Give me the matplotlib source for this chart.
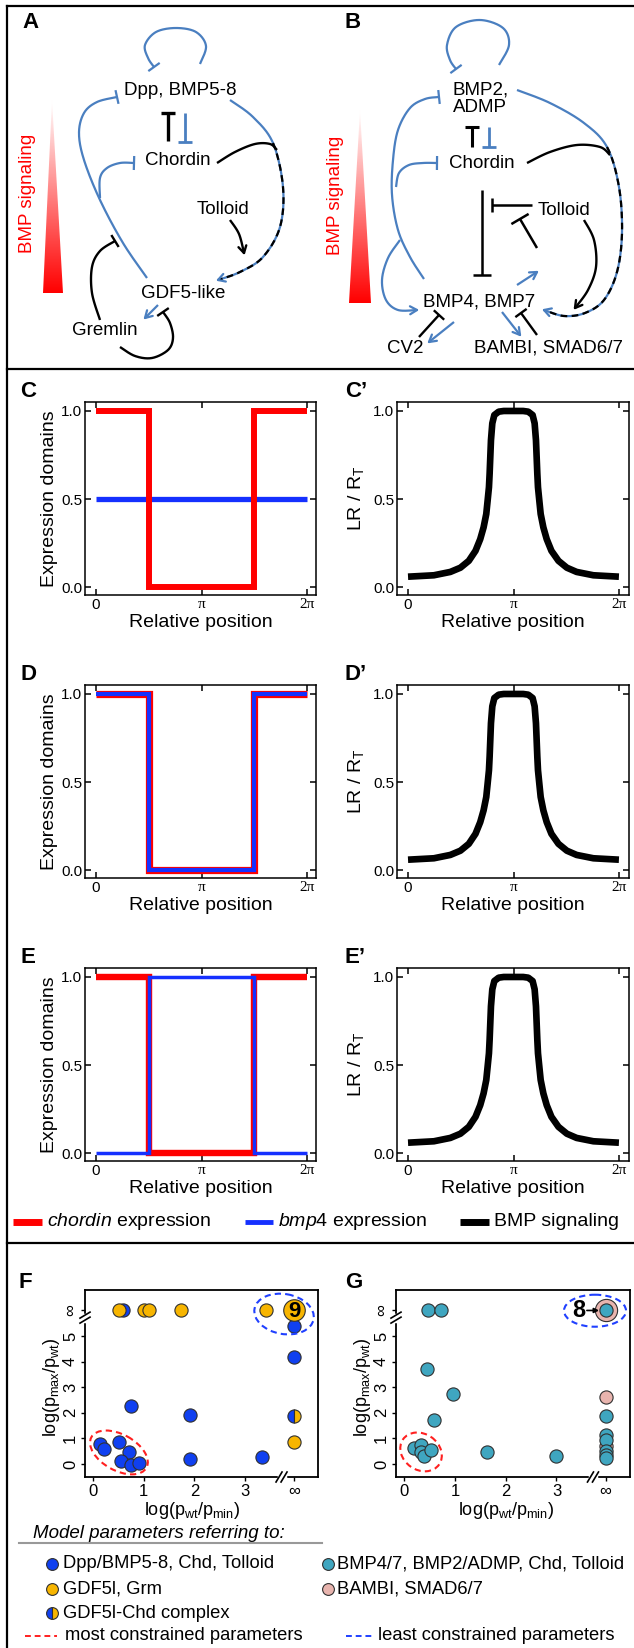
import numpy as np
import matplotlib
matplotlib.use('Agg')
import matplotlib.pyplot as plt
from matplotlib.patches import Polygon, Ellipse
from matplotlib.colors import LinearSegmentedColormap

plt.rcParams['font.family'] = ['Liberation Sans', 'DejaVu Sans']
plt.rcParams['mathtext.fontset'] = 'custom'
plt.rcParams['mathtext.rm'] = 'Liberation Sans'
plt.rcParams['mathtext.it'] = 'Liberation Sans:italic'
plt.rcParams['mathtext.bf'] = 'Liberation Sans:bold'

W, H = 634, 1648
PI = np.pi

# ---------------- data ----------------
# expression domains (relative position around the embryo)
position = [0, PI / 2, PI / 2, 3 * PI / 2, 3 * PI / 2, 2 * PI]
chordin_C = [1, 1, 0, 0, 1, 1]
bmp4_C = [0.5, 0.5, 0.5, 0.5, 0.5, 0.5]
chordin_D = [1, 1, 0, 0, 1, 1]
bmp4_D = [1, 1, 0, 0, 1, 1]
chordin_E = [1, 1, 0, 0, 1, 1]
bmp4_E = [0, 0, 1, 1, 0, 0]

# BMP signaling LR/RT
lr_pos = [0.0, 0.77, 1.26, 1.56, 1.81, 2.01, 2.15, 2.25, 2.33, 2.37, 2.41, 2.43,
          2.45, 2.47, 2.51, 2.57, 2.70, 2.85, 3.14, 3.43, 3.58, 3.71, 3.77, 3.81,
          3.83, 3.85, 3.87, 3.91, 3.95, 4.03, 4.13, 4.27, 4.48, 4.73, 5.02, 5.52, 6.28]
lr_val = [0.059, 0.067, 0.086, 0.11, 0.149, 0.206, 0.272, 0.339, 0.415, 0.49, 0.567,
          0.644, 0.739, 0.834, 0.93, 0.977, 0.996, 1.0, 1.0, 1.0, 0.996, 0.977, 0.93,
          0.834, 0.739, 0.644, 0.567, 0.49, 0.415, 0.339, 0.272, 0.206, 0.149, 0.11,
          0.086, 0.067, 0.059]

INF = 3.97   # x position of the "infinity" column
INFY = 6.0   # y position of the "infinity" row

# panel F
f_blue_x = [0.60, 0.75, 1.92, 1.92, 3.34, 0.14, 0.22, 0.52, 0.70, 0.55, 0.74, 0.90, INF, INF]
f_blue_y = [INFY, 2.26, 1.93, 0.20, 0.26, 0.78, 0.59, 0.86, 0.47, 0.13, -0.03, 0.04, 5.41, 4.19]
f_orange_x = [0.52, 1.00, 1.11, 1.73, 3.41, INF]
f_orange_y = [INFY, INFY, INFY, INFY, INFY, 0.86]
f_half_x = [INF]
f_half_y = [1.86]

# panel G
g_pink_x = [INF, INF]
g_pink_y = [2.60, 0.72]
g_teal_x = [0.47, 0.72, 0.45, 0.96, 0.59, 1.63, 2.99, 0.20, 0.33, 0.32, 0.39, 0.53,
            INF, INF, INF, INF, INF, INF]
g_teal_y = [INFY, INFY, 3.70, 2.73, 1.73, 0.48, 0.32, 0.62, 0.75, 0.45, 0.30, 0.56,
            1.88, 1.12, 0.95, 0.52, 0.36, 0.22]

RED = '#ff0000'
BLUE = '#1530ff'
DBLUE = '#4a7fc0'
F_BLUE = '#1040f0'
ORANGE = '#f7b500'
TEAL = '#3fa6c0'
PINK = '#e8b4ae'
EDGE = '#303030'

fig = plt.figure(figsize=(W / 100, H / 100), dpi=100)


def px_rect(l, t, r, b):
    return [l / W, 1 - b / H, (r - l) / W, (b - t) / H]


ov = fig.add_axes([0, 0, 1, 1], zorder=5)
ov.set_xlim(0, W)
ov.set_ylim(H, 0)
ov.axis('off')
ov.patch.set_visible(False)


# ---------------- helpers for diagrams ----------------
def spline(pts, n=30):
    pts = np.asarray(pts, float)
    ext = np.vstack([pts[0], pts, pts[-1]])
    out = []
    for i in range(1, len(ext) - 2):
        p0, p1, p2, p3 = ext[i - 1], ext[i], ext[i + 1], ext[i + 2]
        c1 = p1 + (p2 - p0) / 6
        c2 = p2 - (p3 - p1) / 6
        t = np.linspace(0, 1, n)[:, None]
        seg = (1 - t) ** 3 * p1 + 3 * (1 - t) ** 2 * t * c1 + 3 * (1 - t) * t ** 2 * c2 + t ** 3 * p2
        out.append(seg if i == 1 else seg[1:])
    return np.vstack(out)


def curve(pts, color, lw=1.6, end=None, half=7, dashed_from=None, size=8):
    n = 30
    s = spline(pts, n)
    ov.plot(s[:, 0], s[:, 1], color=color, lw=lw, solid_capstyle='butt')
    if dashed_from is not None:
        k = dashed_from * (n - 1)
        ov.plot(s[k:, 0], s[k:, 1], color='black', lw=lw, linestyle=(0, (3, 2)))
    tip = s[-1]
    prev = s[-4] if len(s) > 4 else s[0]
    d = tip - prev
    d = d / np.hypot(*d)
    if end == 'tee':
        nrm = np.array([-d[1], d[0]])
        a, b = tip - nrm * half, tip + nrm * half
        ov.plot([a[0], b[0]], [a[1], b[1]], color=color, lw=lw, solid_capstyle='butt')
    elif end == 'arrow':
        for ang in (np.radians(30), -np.radians(30)):
            r = np.array([[np.cos(ang), -np.sin(ang)], [np.sin(ang), np.cos(ang)]])
            p = tip + size * (r @ (-d))
            ov.plot([tip[0], p[0]], [tip[1], p[1]], color=color, lw=lw, solid_capstyle='round')


def gradient_triangle(apex, base_l, base_r):
    cmap = LinearSegmentedColormap.from_list('w2r', ['white', RED])
    grad = np.linspace(0, 1, 256)[:, None]
    im = ov.imshow(grad, extent=(base_l[0], base_r[0], base_l[1], apex[1]),
                   cmap=cmap, aspect='auto', origin='upper', zorder=1)
    poly = Polygon([apex, base_l, base_r], closed=True, transform=ov.transData)
    im.set_clip_path(poly)


TXT = 13.5

# ---------------- frame ----------------
ov.plot([7, 7], [6, H], color='black', lw=1.6)
ov.plot([7, W], [6, 6], color='black', lw=1.6)
ov.plot([7, W], [369, 369], color='black', lw=1.6)
ov.plot([7, W], [1243, 1243], color='black', lw=1.6)

# ---------------- panel A ----------------
ov.text(22, 22, 'A', fontsize=16, fontweight='bold', ha='left', va='center')
gradient_triangle((52, 100), (43, 293), (63, 293))
ov.text(28, 193, 'BMP signaling', color=RED, rotation=90, fontsize=TXT, ha='center', va='center')
ov.text(180, 90, 'Dpp, BMP5-8', fontsize=TXT, ha='center', va='center')
ov.text(178, 160, 'Chordin', fontsize=TXT, ha='center', va='center')
ov.text(223, 209, 'Tolloid', fontsize=TXT, ha='center', va='center')
ov.text(183, 293, 'GDF5-like', fontsize=TXT, ha='center', va='center')
ov.text(105, 330, 'Gremlin', fontsize=TXT, ha='center', va='center')

curve([(200, 64), (206, 46), (196, 32), (176, 28), (156, 32), (145, 45), (148, 58), (154, 67)], DBLUE, end='tee')
curve([(147, 278), (123, 243), (100, 200), (84, 160), (79, 133), (84, 113), (97, 102), (117, 97)], DBLUE, end='tee')
curve([(100, 198), (100, 178), (107, 168), (120, 163), (134, 163)], DBLUE, end='tee')
curve([(230, 100), (253, 117), (273, 143), (283, 187), (280, 227), (263, 257), (240, 272), (218, 280)],
      DBLUE, end='arrow', dashed_from=2)
curve([(217, 163), (235, 152), (255, 144), (270, 144), (277, 150)], 'black', lw=1.7)
curve([(230, 220), (239, 234), (244, 253)], 'black', lw=1.7, end='arrow')
curve([(100, 320), (92, 293), (92, 267), (100, 251), (115, 241)], 'black', lw=1.7, end='tee')
curve([(158, 305), (145, 318)], DBLUE, end='arrow')
curve([(120, 347), (135, 356), (152, 358), (168, 350), (173, 338), (170, 323), (163, 312)],
      'black', lw=1.7, end='tee')
curve([(168, 141), (168, 113)], 'black', lw=2.4, end='tee')
curve([(185, 113), (185, 142)], DBLUE, lw=2.0, end='tee')

# ---------------- panel B ----------------
ov.text(345, 22, 'B', fontsize=16, fontweight='bold', ha='left', va='center')
gradient_triangle((360, 110), (349, 303), (371, 303))
ov.text(335, 195, 'BMP signaling', color=RED, rotation=90, fontsize=TXT, ha='center', va='center')
ov.text(481, 90, 'BMP2,', fontsize=TXT, ha='center', va='center')
ov.text(480, 107, 'ADMP', fontsize=TXT, ha='center', va='center')
ov.text(482, 163, 'Chordin', fontsize=TXT, ha='center', va='center')
ov.text(564, 210, 'Tolloid', fontsize=TXT, ha='center', va='center')
ov.text(479, 302, 'BMP4, BMP7', fontsize=TXT, ha='center', va='center')
ov.text(405, 348, 'CV2', fontsize=TXT, ha='center', va='center')
ov.text(548, 348, 'BAMBI, SMAD6/7', fontsize=TXT, ha='center', va='center')

curve([(499, 65), (509, 45), (503, 28), (480, 20), (456, 27), (447, 45), (450, 60), (456, 69)], DBLUE, end='tee')
curve([(424, 279), (410, 257), (398, 230), (392, 195), (393, 160), (398, 130), (410, 108), (425, 99), (439, 97)],
      DBLUE, end='tee')
curve([(396, 187), (399, 173), (409, 165), (423, 163), (437, 163)], DBLUE, end='tee')
curve([(400, 240), (388, 258), (382, 280), (386, 300), (398, 310), (417, 310)], DBLUE, end='arrow')
curve([(517, 90), (550, 103), (584, 123), (607, 147), (619, 187), (622, 233), (617, 272), (604, 300),
       (585, 313), (564, 316), (544, 310)], DBLUE, end='arrow', dashed_from=3)
curve([(527, 163), (550, 152), (577, 145), (600, 147), (610, 155)], 'black', lw=1.7)
curve([(482, 190), (482, 275)], 'black', lw=1.8, end='tee', half=9)
curve([(532, 205), (492, 205)], 'black', lw=1.8, end='tee', half=7)
curve([(537, 248), (520, 219)], 'black', lw=1.8, end='tee', half=10)
curve([(517, 285), (537, 272)], DBLUE, end='arrow')
curve([(584, 220), (594, 240), (596, 267), (588, 290), (575, 308)], 'black', lw=1.7, end='arrow')
curve([(419, 337), (439, 315)], 'black', lw=1.7, end='tee')
curve([(454, 322), (429, 342)], DBLUE, end='arrow')
curve([(502, 312), (520, 335)], DBLUE, end='arrow')
curve([(537, 335), (521, 313)], 'black', lw=1.7, end='tee')
curve([(472, 147), (472, 127)], 'black', lw=2.2, end='tee')
curve([(489, 127), (489, 147)], DBLUE, lw=2.0, end='tee')


# ---------------- panels C-E ----------------
def style_expr(ax, ylabel):
    ax.set_ylim(-0.045, 1.051)
    ax.set_xticks([0, PI, 2 * PI])
    ax.set_xticklabels(['0', 'π', '2π'])
    for lbl in ax.get_xticklabels()[1:]:
        lbl.set_fontfamily(['Liberation Serif'])
        lbl.set_fontsize(10)
    ax.set_yticks([0, 0.5, 1.0])
    ax.set_yticklabels(['0.0', '0.5', '1.0'])
    ax.tick_params(direction='in', top=True, right=True, length=4, width=1.1,
                   labelsize=11, pad=2)
    for sp in ax.spines.values():
        sp.set_linewidth(1.1)
    ax.set_xlabel('Relative position', fontsize=14)
    ax.xaxis.label.set_va('center')
    ax.xaxis.set_label_coords(0.5, -0.14)
    ax.set_ylabel(ylabel, fontsize=14)
    ax.yaxis.label.set_va('center')


rows = [
    (402, chordin_C, bmp4_C, 4.3, 3.8, True, 'C'),
    (685, chordin_D, bmp4_D, 5.2, 3.0, False, 'D'),
    (968, chordin_E, bmp4_E, 4.6, 2.5, False, 'E'),
]
for top, chd, bmp, clw, blw, red_on_top, letter in rows:
    ax = fig.add_axes(px_rect(85, top, 316, top + 193))
    zr, zb = (3, 2) if red_on_top else (2, 3)
    ax.plot(position, chd, color=RED, lw=clw, solid_joinstyle='miter', solid_capstyle='butt', zorder=zr)
    ax.plot(position, bmp, color=BLUE, lw=blw, solid_joinstyle='miter', solid_capstyle='butt', zorder=zb)
    ax.set_xlim(-0.328, 6.551)
    style_expr(ax, 'Expression domains')
    ax.yaxis.set_label_coords(-0.152, 0.5)
    ov.text(20, top - 11, letter, fontsize=16, fontweight='bold', ha='left', va='center')

    ax2 = fig.add_axes(px_rect(397, top, 629, top + 193))
    ax2.plot(lr_pos, lr_val, color='black', lw=4.8, solid_capstyle='butt')
    ax2.set_xlim(-0.328, 6.58)
    style_expr(ax2, 'LR / R$_{\\mathrm{T}}$')
    ax2.yaxis.set_label_coords(-0.177, 0.5)
    ov.text(345, top - 11, letter + '\u2019', fontsize=16, fontweight='bold', ha='left', va='center')

# legend row for C-E
ov.plot([13, 42], [1222, 1222], color=RED, lw=5, solid_capstyle='butt')
ov.text(47, 1222, '$\\mathit{chordin}$ expression', fontsize=14, ha='left', va='center')
ov.plot([245, 273], [1222, 1222], color=BLUE, lw=3.5, solid_capstyle='butt')
ov.text(278, 1222, '$\\mathit{bmp4}$ expression', fontsize=14, ha='left', va='center')
ov.plot([460, 489], [1222, 1222], color='black', lw=5, solid_capstyle='butt')
ov.text(494, 1222, 'BMP signaling', fontsize=14, ha='left', va='center')


# ---------------- panels F, G ----------------
def style_scatter(ax):
    ax.set_xlim(-0.16, 4.44)
    ax.set_ylim(-0.51, 6.8)
    ax.set_xticks([0, 1, 2, 3, INF])
    ax.set_xticklabels(['0', '1', '2', '3', '∞'])
    ax.set_yticks([0, 1, 2, 3, 4, 5, INFY])
    ax.set_yticklabels(['0', '1', '2', '3', '4', '5', '∞'], rotation=90, va='center')
    ax.get_xticklabels()[-1].set_fontsize(17)
    ax.get_yticklabels()[-1].set_fontsize(17)
    ax.tick_params(direction='out', length=3, width=1, labelsize=12, pad=2)
    for sp in ax.spines.values():
        sp.set_linewidth(1.3)
    ax.set_xlabel('log(p$_{\\mathrm{wt}}$/p$_{\\mathrm{min}}$)', fontsize=13)
    ax.xaxis.label.set_va('center')
    ax.set_ylabel('log(p$_{\\mathrm{max}}$/p$_{\\mathrm{wt}}$)', fontsize=13)
    ax.yaxis.label.set_va('center')


def to_px(ax, x, y):
    px, py = ax.transData.transform((x, y))
    return px, H - py


def axis_breaks(ax, xb, yb):
    ylo = ax.get_ylim()[0]
    xlo = ax.get_xlim()[0]
    cx, cy = to_px(ax, xb, ylo)
    ov.plot([cx - 3, cx + 3], [cy, cy], color='white', lw=2.5, zorder=6)
    for dx in (-2.5, 2.5):
        ov.plot([cx + dx - 3, cx + dx + 3], [cy + 5, cy - 5], color='black', lw=1.2, zorder=7)
    cx, cy = to_px(ax, xlo, yb)
    ov.plot([cx, cx], [cy - 3, cy + 3], color='white', lw=2.5, zorder=6)
    for dy in (-2.5, 2.5):
        ov.plot([cx - 5, cx + 5], [cy + dy + 3, cy + dy - 3], color='black', lw=1.2, zorder=7)


def dashed_ellipse(ax, x, y, w, h, ang, color):
    cx, cy = to_px(ax, x, y)
    e = Ellipse((cx, cy), w, h, angle=ang, fill=False, edgecolor=color, lw=1.5,
                linestyle=(0, (3, 2)), zorder=6)
    ov.add_patch(e)


MS = 9.5
axF = fig.add_axes(px_rect(85, 1290, 318, 1477))
axF.plot(f_blue_x, f_blue_y, 'o', ms=MS, color=F_BLUE, mec=EDGE, mew=0.8, zorder=3)
axF.plot(f_orange_x, f_orange_y, 'o', ms=MS, color=ORANGE, mec=EDGE, mew=0.8, zorder=4)
axF.plot(f_half_x, f_half_y, 'o', ms=MS, fillstyle='left', markerfacecolor=F_BLUE,
         markerfacecoloralt=ORANGE, mec=EDGE, mew=0.8, zorder=4)
axF.plot([INF], [INFY], 'o', ms=15.5, color=ORANGE, mec=EDGE, mew=0.8, zorder=5)
axF.text(INF, INFY - 0.05, '9', fontsize=16, fontweight='bold', ha='center', va='center', zorder=6)
style_scatter(axF)
axF.xaxis.set_label_coords(0.46, -0.18)
axF.yaxis.set_label_coords(-0.142, 0.48)
ov.text(19, 1282, 'F', fontsize=16, fontweight='bold', ha='left', va='center')

axG = fig.add_axes(px_rect(396, 1290, 630, 1477))
axG.plot(g_pink_x, g_pink_y, 'o', ms=MS, color=PINK, mec=EDGE, mew=0.8, zorder=3)
axG.plot(g_teal_x, g_teal_y, 'o', ms=MS, color=TEAL, mec=EDGE, mew=0.8, zorder=4)
axG.plot([INF], [INFY], 'o', ms=16, color=PINK, mec=EDGE, mew=0.8, zorder=5)
axG.plot([INF], [INFY], 'o', ms=MS, color=TEAL, mec=EDGE, mew=0.8, zorder=6)
axG.text(3.45, INFY, '8', fontsize=17, fontweight='bold', ha='center', va='center', zorder=6)
axG.annotate('', xy=(3.84, INFY), xytext=(3.60, INFY),
             arrowprops=dict(arrowstyle='-|>', lw=1.2, color='black', mutation_scale=7,
                             shrinkA=0, shrinkB=0), zorder=7)
style_scatter(axG)
axG.set_xlim(-0.164, 4.45)
axG.xaxis.set_label_coords(0.47, -0.18)
axG.yaxis.set_label_coords(-0.145, 0.48)
ov.text(345, 1282, 'G', fontsize=16, fontweight='bold', ha='left', va='center')

for ax in (axF, axG):
    axis_breaks(ax, 3.72, 5.72)

dashed_ellipse(axF, 0.51, 0.45, 63, 36, 29, '#ff2020')
dashed_ellipse(axF, 3.77, 5.86, 60, 40, 10, '#2040ff')
dashed_ellipse(axG, 0.33, 0.47, 44, 36, 35, '#ff2020')
dashed_ellipse(axG, 3.76, 5.99, 62, 32, 0, '#2040ff')

# ---------------- bottom legend ----------------
ov.text(33, 1533, 'Model parameters referring to:', fontsize=13.5, style='italic', ha='left', va='center')
ov.plot([19, 322], [1543, 1543], color='#999999', lw=1.5)
leg_left = [('Dpp/BMP5-8, Chd, Tolloid', F_BLUE, None),
            ('GDF5l, Grm', ORANGE, None),
            ('GDF5l-Chd complex', F_BLUE, ORANGE)]
for i, (lab, c1, c2) in enumerate(leg_left):
    y = 1564 + 24.5 * i
    if c2 is None:
        ov.plot([52], [y], 'o', ms=8.5, color=c1, mec=EDGE, mew=0.8)
    else:
        ov.plot([52], [y], 'o', ms=8.5, fillstyle='left', markerfacecolor=c1,
                markerfacecoloralt=c2, mec=EDGE, mew=0.8)
    ov.text(63, y, lab, fontsize=13.2, ha='left', va='center')
leg_right = [('BMP4/7, BMP2/ADMP, Chd, Tolloid', TEAL), ('BAMBI, SMAD6/7', PINK)]
for i, (lab, c) in enumerate(leg_right):
    y = 1564 + 24.5 * i
    ov.plot([328], [y], 'o', ms=8.5, color=c, mec=EDGE, mew=0.8)
    ov.text(337, y, lab, fontsize=13.2, ha='left', va='center')
ov.plot([25, 57], [1636, 1636], color='#ff2020', lw=1.4, linestyle=(0, (3, 2)))
ov.text(65, 1636, 'most constrained parameters', fontsize=13.2, ha='left', va='center')
ov.plot([346, 374], [1636, 1636], color='#2040ff', lw=1.4, linestyle=(0, (3, 2)))
ov.text(378, 1636, 'least constrained parameters', fontsize=13.2, ha='left', va='center')

fig.savefig('out.png', dpi=100)
